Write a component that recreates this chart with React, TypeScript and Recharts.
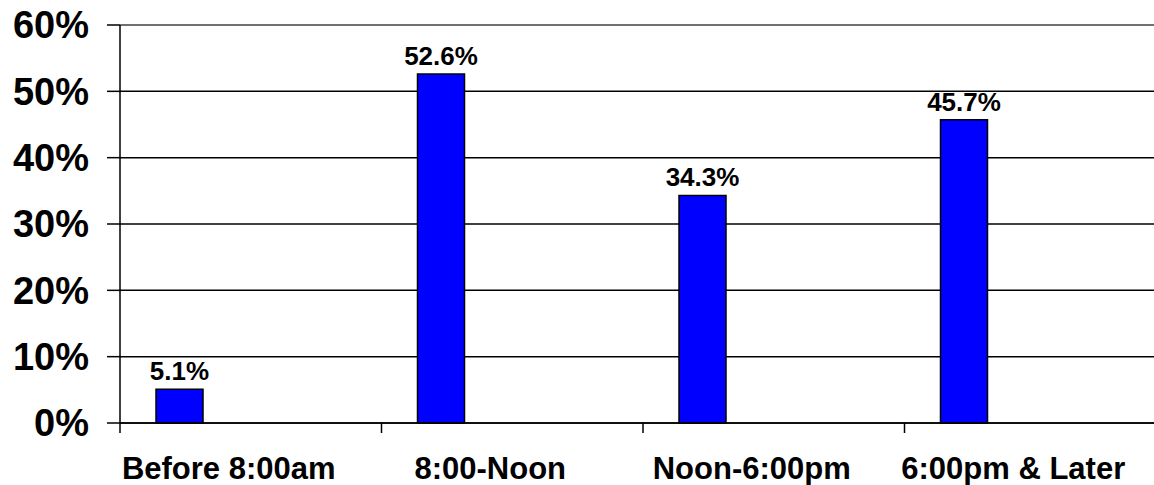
import { BarChart, Bar, XAxis, YAxis, CartesianGrid, LabelList, ReferenceLine, Text } from "recharts";

const categories = ["Before 8:00am", "8:00-Noon", "Noon-6:00pm", "6:00pm & Later"];
const shares = [5.1, 52.6, 34.3, 45.7];
const yTicks = [0, 10, 20, 30, 40, 50, 60];

const data = categories.map((name, i) => ({ name, share: shares[i] }));

const font = "'Liberation Sans', Arial, Helvetica, sans-serif";
const X_TICK = 10;
const X_MARGIN = 24;

// category label plus a tick mark on the left edge of its band (Excel style)
function CategoryTick(props: any) {
    const { x, y, payload } = props;
    const edge = x - (payload.offset || 0);
    const axisY = y - X_TICK - X_MARGIN;
    return (
        <g>
            <line x1={edge} x2={edge} y1={axisY} y2={axisY + X_TICK} stroke="#000" strokeWidth={1.5} />
            <Text
                x={x - 22}
                y={y}
                textAnchor="middle"
                verticalAnchor="start"
                fontSize={31}
                fontWeight={700}
                fontFamily={font}
                fill="#000"
            >
                {payload.value}
            </Text>
        </g>
    );
}

export default function App() {
    return (
        <div style={{ position: "fixed", left: 0, top: 0, width: 1154, height: 485, overflow: "hidden", background: "#fff" }}>
            <BarChart
                width={1180}
                height={485}
                data={data}
                margin={{ top: 25, right: 14, bottom: 0, left: 0 }}
                barCategoryGap={36}
                barGap={0}
            >
                <CartesianGrid vertical={false} stroke="#000" strokeWidth={1.5} />
                <ReferenceLine y={60} stroke="#808080" strokeWidth={1.5} />
                <XAxis
                    dataKey="name"
                    height={62}
                    stroke="#000"
                    strokeWidth={1.5}
                    tickLine={false}
                    tickSize={X_TICK}
                    tickMargin={X_MARGIN}
                    interval={0}
                    tick={<CategoryTick />}
                />
                <YAxis
                    width={120}
                    domain={[0, 60]}
                    ticks={yTicks}
                    tickFormatter={(v) => `${v}%`}
                    stroke="#000"
                    strokeWidth={1.5}
                    tickSize={13}
                    tickMargin={18}
                    tick={{ fontSize: 38, fontWeight: 700, fill: "#000", fontFamily: font }}
                />
                <Bar dataKey="share" fill="#0000FF" stroke="#000" strokeWidth={1.5} isAnimationActive={false}>
                    <LabelList
                        dataKey="share"
                        position="top"
                        offset={9}
                        formatter={(v: number) => `${v}%`}
                        style={{ fontSize: 26, fontWeight: 700, fill: "#000", fontFamily: font }}
                    />
                </Bar>
                <Bar dataKey="spacerA" fill="none" isAnimationActive={false} />
                <Bar dataKey="spacerB" fill="none" isAnimationActive={false} />
                <Bar dataKey="spacerC" fill="none" isAnimationActive={false} />
            </BarChart>
        </div>
    );
}
